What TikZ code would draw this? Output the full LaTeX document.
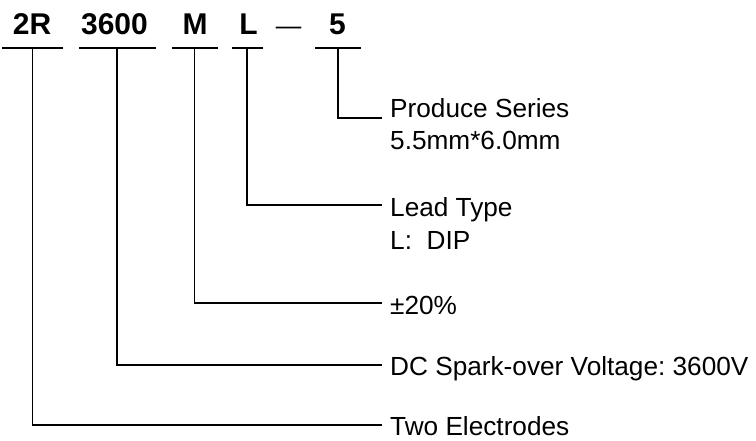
\documentclass[tikz,border=0pt]{standalone}
\usepackage{fontspec}
\setmainfont{Liberation Sans}
\frenchspacing
\begin{document}
\begin{tikzpicture}[x=1pt,y=-1pt,
  code/.style={font=\fontsize{30}{34}\selectfont\bfseries, inner sep=0pt, anchor=base},
  desc/.style={font=\fontsize{26.2}{30}\selectfont, inner sep=0pt, anchor=base west},
  uline/.style={line width=2pt},
  lead/.style={line width=1.4pt}]
\useasboundingbox (0,0) rectangle (756,441);
% top code
\node[code] (t2R) at (32,35) {2R};
\node[code] (t3600) at (114.5,35) {3600};
\node[code] (tM) at (195,35) {M};
\node[code] (tL) at (248.5,35) {L};
\node[font=\fontsize{25.5}{30}\selectfont, inner sep=0pt, anchor=base] (tdash) at (288.5,35) {—};
\node[code] (t5) at (337.5,35) {5};
% underline coordinates
\coordinate (a1) at (2,48);   \coordinate (b1) at (63,48);  \coordinate (c1) at (32.5,48);
\coordinate (a2) at (79,48);  \coordinate (b2) at (156,48); \coordinate (c2) at (117,48);
\coordinate (a3) at (172,48); \coordinate (b3) at (218,48); \coordinate (c3) at (194.5,48);
\coordinate (a4) at (232,48); \coordinate (b4) at (263,48); \coordinate (c4) at (247,48);
\coordinate (a5) at (315,48); \coordinate (b5) at (361,48); \coordinate (c5) at (338,48);
\draw[uline] (a1) -- (b1);
\draw[uline] (a2) -- (b2);
\draw[uline] (a3) -- (b3);
\draw[uline] (a4) -- (b4);
\draw[uline] (a5) -- (b5);
% descriptions
\node[desc] (ps) at (390,118) {Produce Series};
\node[desc] (ps2) at (390,150) {5.5mm*6.0mm};
\node[desc] (lt) at (390,217) {Lead Type};
\node[desc] (lt2) at (390,250) {L:\ \ DIP};
\node[desc] (tol) at (390,315) {±20\%};
\node[desc] (dc) at (390,375) {DC Spark-over Voltage: 3600V};
\node[desc] (te) at (390,435) {Two Electrodes};
% connectors
\draw[lead] (c5) |- ([xshift=-8pt]ps.base west);
\draw[lead] (c4) |- ([xshift=-8pt,yshift=12pt]lt.base west);
\draw[lead] (c3) |- ([xshift=-8pt,yshift=12pt]tol.base west);
\draw[lead] (c2) |- ([xshift=-8pt,yshift=10pt]dc.base west);
\draw[lead] (c1) |- ([xshift=-8pt,yshift=10pt]te.base west);
\end{tikzpicture}
\end{document}
